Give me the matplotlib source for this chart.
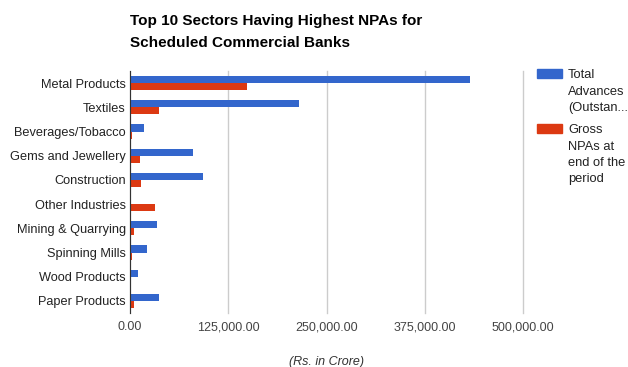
import matplotlib.pyplot as plt
import matplotlib.patches as mpatches
import numpy as np

plt.rcParams['font.family'] = ['Liberation Sans', 'DejaVu Sans']

# data (Rs. in Crore)
sectors = ['Metal Products', 'Textiles', 'Beverages/Tobacco', 'Gems and Jewellery',
           'Construction', 'Other Industries', 'Mining & Quarrying', 'Spinning Mills',
           'Wood Products', 'Paper Products']
total_advances = [432000, 214500, 17800, 80500, 92400, 0, 34300, 22000, 9800, 36900]
gross_npas = [148400, 36900, 3000, 12700, 14400, 31800, 4700, 3000, 800, 4700]
x_ticks = [0, 125000, 250000, 375000, 500000]

BLUE = '#3366cc'
RED = '#dc3912'

fig = plt.figure(figsize=(6.28, 3.67), dpi=100)
ax = fig.add_axes([130 / 628, 1 - 313 / 367, (523 - 130) / 628, (313 - 71) / 367])

y = np.arange(len(sectors))
h = 0.29
ax.barh(y - h / 2, total_advances, height=h, color=BLUE, zorder=3)
ax.barh(y + h / 2, gross_npas, height=h, color=RED, zorder=3)

ax.set_ylim(len(sectors) - 0.5, -0.5)
ax.set_xlim(0, 500000)
ax.set_yticks(y)
ax.set_yticklabels(sectors, fontsize=9.2, color='#222222')
ax.set_xticks(x_ticks)
ax.set_xticklabels(['{:,.2f}'.format(v) for v in x_ticks], fontsize=9, color='#444444')
ax.tick_params(length=0, pad=3)
ax.tick_params(axis='x', pad=6)
ax.grid(axis='x', color='#cccccc', linewidth=1, zorder=0)
for gl in ax.xaxis.get_gridlines():
    gl.set_clip_on(False)
for s in ['top', 'right', 'bottom']:
    ax.spines[s].set_visible(False)
ax.spines['left'].set_color('#333333')
ax.spines['left'].set_zorder(4)
ax.set_xlabel('(Rs. in Crore)', fontsize=9, style='italic', color='#333333', labelpad=16)

fig.text(130 / 628, 1 - 32 / 367, 'Top 10 Sectors Having Highest NPAs for\nScheduled Commercial Banks',
         fontsize=11, fontweight='bold', color='#000000', va='center', ha='left',
         linespacing=1.75)

# legend drawn by hand so the boxes line up with the first line of text
legend_items = [('Total\nAdvances\n(Outstan...', BLUE, 69),
                ('Gross\nNPAs at\nend of the\nperiod', RED, 124)]
for label, col, top in legend_items:
    fig.patches.append(mpatches.Rectangle((537 / 628, 1 - (top + 9) / 367), 25 / 628, 9 / 367,
                                          transform=fig.transFigure, color=col))
    fig.text(568 / 628, 1 - (top + 0.5) / 367, label, fontsize=9.3, color='#222222',
             va='top', ha='left', linespacing=1.45)

fig.savefig('out.png', dpi=100)
